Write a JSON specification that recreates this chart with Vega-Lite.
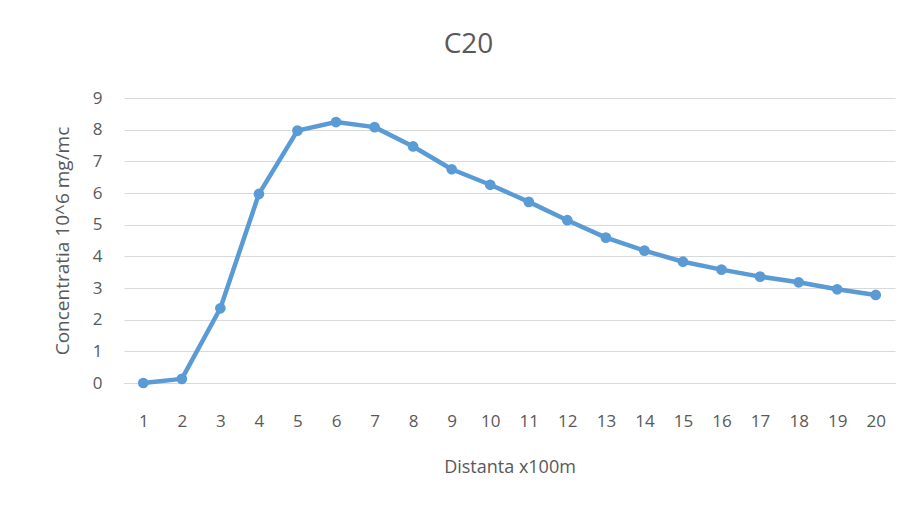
{
  "$schema": "https://vega.github.io/schema/vega-lite/v6.json",
  "width": 771,
  "height": 285,
  "autosize": {"type": "none"},
  "padding": {"left": 124, "top": 98, "right": 26, "bottom": 125},
  "background": "white",
  "config": {
    "view": {"stroke": null},
    "font": "Open Sans"
  },
  "title": {
    "text": "C20",
    "fontSize": 28,
    "font": "Open Sans",
    "fontWeight": "normal",
    "color": "#595959",
    "anchor": "middle",
    "dx": -41,
    "offset": 30
  },
  "data": {
    "values": [
      {"d": 1, "c": 0.0},
      {"d": 2, "c": 0.13},
      {"d": 3, "c": 2.36},
      {"d": 4, "c": 5.97},
      {"d": 5, "c": 7.97},
      {"d": 6, "c": 8.24},
      {"d": 7, "c": 8.08},
      {"d": 8, "c": 7.47},
      {"d": 9, "c": 6.75},
      {"d": 10, "c": 6.26},
      {"d": 11, "c": 5.72},
      {"d": 12, "c": 5.14},
      {"d": 13, "c": 4.59},
      {"d": 14, "c": 4.18},
      {"d": 15, "c": 3.83},
      {"d": 16, "c": 3.58},
      {"d": 17, "c": 3.36},
      {"d": 18, "c": 3.18},
      {"d": 19, "c": 2.96},
      {"d": 20, "c": 2.78}
    ]
  },
  "mark": {
    "type": "line",
    "color": "#5B9BD5",
    "strokeWidth": 4.5,
    "strokeJoin": "round",
    "point": {"filled": true, "size": 115, "color": "#5B9BD5"}
  },
  "encoding": {
    "x": {
      "field": "d",
      "type": "ordinal",
      "scale": {"padding": 0.5},
      "axis": {
        "title": "Distanta x100m",
        "titleFont": "Open Sans",
        "titleFontSize": 18,
        "titleFontWeight": "normal",
        "titleColor": "#595959",
        "titlePadding": 29,
        "labelAngle": 0,
        "labelFont": "Open Sans",
        "labelFontSize": 17,
        "labelColor": "#595959",
        "labelPadding": 30,
        "tickSize": 0,
        "ticks": false,
        "domain": true,
        "domainColor": "#d9d9d9",
        "grid": false
      }
    },
    "y": {
      "field": "c",
      "type": "quantitative",
      "scale": {"domain": [0, 9], "nice": false},
      "axis": {
        "title": "Concentratia 10^6 mg/mc",
        "titleFont": "Open Sans",
        "titleFontSize": 19,
        "titleFontWeight": "normal",
        "titleColor": "#595959",
        "titlePadding": 20,
        "values": [0, 1, 2, 3, 4, 5, 6, 7, 8, 9],
        "labelFont": "Open Sans",
        "labelFontSize": 17,
        "labelColor": "#595959",
        "labelPadding": 22,
        "ticks": false,
        "domain": false,
        "grid": true,
        "gridColor": "#d9d9d9",
        "gridWidth": 1
      }
    }
  }
}
